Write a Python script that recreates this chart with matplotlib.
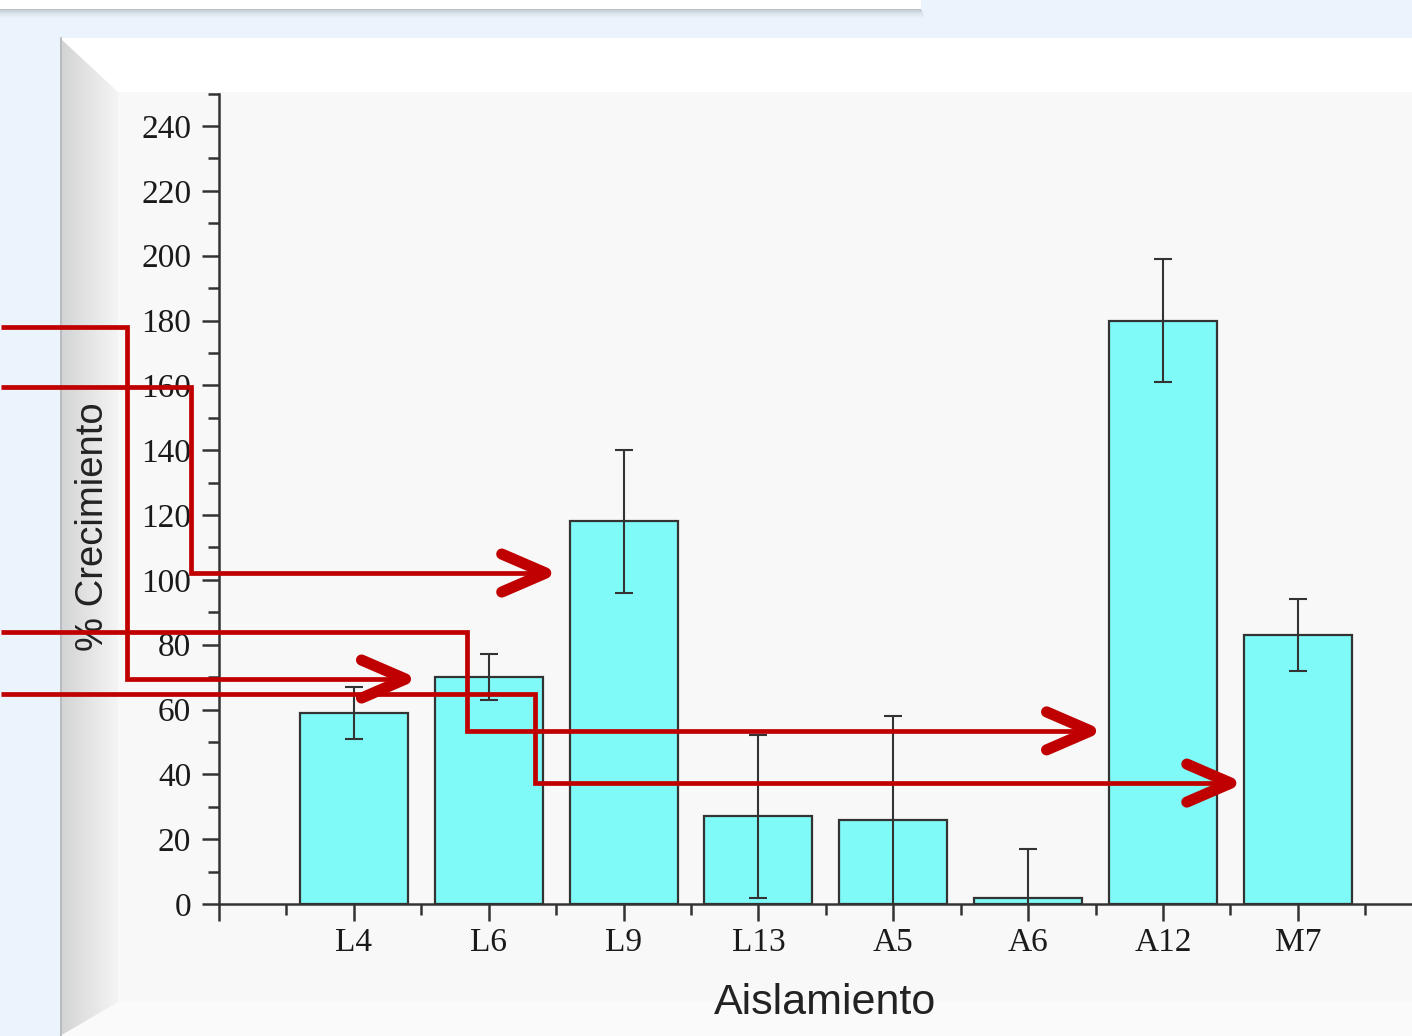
import numpy as np
import matplotlib
matplotlib.use("Agg")
import matplotlib.pyplot as plt
from matplotlib.patches import Rectangle, Polygon

# datos del ensayo
aislamientos = ["L4", "L6", "L9", "L13", "A5", "A6", "A12", "M7"]
crecimiento = [59, 70, 118, 27, 26, 2, 180, 83]
error = [8, 7, 22, 25, 32, 15, 19, 11]

# flechas rojas (coordenadas de datos del grafico), el ultimo punto es la punta
flechas_x = [
    [-1.62, -0.68, -0.68, 1.42],
    [-1.62, -0.21, -0.21, 2.46],
    [-1.62, 1.84, 1.84, 6.50],
    [-1.62, 2.34, 2.34, 7.54],
]
flechas_y = [
    [178.0, 178.0, 69.4, 69.4],
    [159.5, 159.5, 102.1, 102.1],
    [83.9, 83.9, 53.4, 53.4],
    [64.8, 64.8, 37.3, 37.3],
]

W, H = 1412, 1036
fig = plt.figure(figsize=(W / 100, H / 100), dpi=100)
fig.patch.set_facecolor("#ebf4fd")

# ---- fondo de la diapositiva (en pixeles) ----
bg = fig.add_axes([0, 0, 1, 1], zorder=-10)
bg.set_xlim(0, W)
bg.set_ylim(H, 0)
bg.axis("off")

# recuadro superior con sombra
for i, a in enumerate([0.55, 0.35, 0.2, 0.1, 0.05]):
    bg.add_patch(Rectangle((0, 8 + i * 2), 921 + i, 2, color="#8d949b", alpha=a, lw=0))
bg.add_patch(Rectangle((0, 0), 921, 8.5, color="white", lw=0))

# panel del grafico con bisel
bg.add_patch(Rectangle((60, 38), W - 60, H - 38, color="white", lw=0))
bg.add_patch(Rectangle((118, 92), W - 118, 910, color="#f8f8f8", lw=0))
bg.add_patch(Polygon([(60, H), (117, 1002), (W, 1002), (W, H)], color="#fafafa", lw=0))
bisel = Polygon([(60, 38), (118, 92), (118, 1002), (60, H)], closed=True,
                facecolor="none", lw=0)
bg.add_patch(bisel)
grad = np.linspace(0, 1, 64)[None, :]
img = bg.imshow(grad, extent=(60, 118, H, 38), cmap=matplotlib.colors.LinearSegmentedColormap.from_list(
    "bisel", ["#d2d3d4", "#e4e4e4", "#f4f4f4"]), aspect="auto", zorder=1)
img.set_clip_path(bisel)
bg.plot([60.5, 60.5], [38, H], color="#b4b7ba", lw=1.2, zorder=2)
bg.set_xlim(0, W)
bg.set_ylim(H, 0)

# ---- grafico de barras ----
xmin, xmax = 0, 9
ymin, ymax = 0, 250
ax_rect = [219 / W, 132 / H, 1213.7 / W, 810.4 / H]
ax = fig.add_axes(ax_rect)
ax.set_zorder(1)
ax.patch.set_visible(False)

x = np.arange(1, len(aislamientos) + 1)
ax.bar(x, crecimiento, width=0.8, color="#80faf8", edgecolor="#333333",
       linewidth=1.6, zorder=2)
ax.errorbar(x, crecimiento, yerr=error, fmt="none", ecolor="#333333",
            elinewidth=1.5, capsize=6.5, capthick=1.5, zorder=3)

ax.set_xlim(xmin, xmax)
ax.set_ylim(ymin, ymax)
for s in ["top", "right"]:
    ax.spines[s].set_visible(False)
for s in ["left", "bottom"]:
    ax.spines[s].set_linewidth(1.8)
    ax.spines[s].set_color("#333333")

ax.set_yticks(np.arange(0, 241, 20))
ax.set_yticks(np.arange(0, 251, 10), minor=True)
ax.set_xticks(np.arange(0, 10))
ax.set_xticklabels([""] + aislamientos + [""])
ax.set_xticks(np.arange(0.5, 9, 1), minor=True)
ax.tick_params(which="major", length=12, width=1.8, color="#333333",
               labelsize=24, labelcolor="#1a1a1a", direction="out")
ax.tick_params(which="minor", length=8, width=1.8, color="#333333", direction="out")
ax.tick_params(axis="y", pad=8)
ax.tick_params(axis="x", pad=5)
for lab in ax.get_xticklabels() + ax.get_yticklabels():
    lab.set_family("Liberation Serif")

ax.set_ylabel("% Crecimiento", fontsize=27.5, family="Liberation Sans", color="#222222")
ax.set_xlabel("Aislamiento", fontsize=31, family="Liberation Sans", color="#222222")
ax.yaxis.set_label_coords(-0.104, 0.465)
ax.xaxis.set_label_coords(0.499, -0.122)
ax.yaxis.label.set_va("center")
ax.xaxis.label.set_va("center")

# ---- flechas ----
px_x = W * ax_rect[2] / (xmax - xmin)
px_y = H * ax_rect[3] / (ymax - ymin)
rojo = "#c00000"
for fx, fy in zip(flechas_x, flechas_y):
    tx, ty = fx[-1], fy[-1]
    lx = list(fx[:-1]) + [tx - 12 / px_x]
    ax.plot(lx, fy, color=rojo, lw=3.4, clip_on=False, zorder=5,
            solid_joinstyle="miter", solid_capstyle="butt")
    tip = tx - 5 / px_x
    back = tip - 44 / px_x
    ax.plot([back, tip, back], [ty + 19 / px_y, ty, ty - 19 / px_y], color=rojo,
            lw=8, clip_on=False, zorder=5, solid_joinstyle="round",
            solid_capstyle="round")

fig.savefig("out.png", dpi=100, facecolor=fig.get_facecolor())
